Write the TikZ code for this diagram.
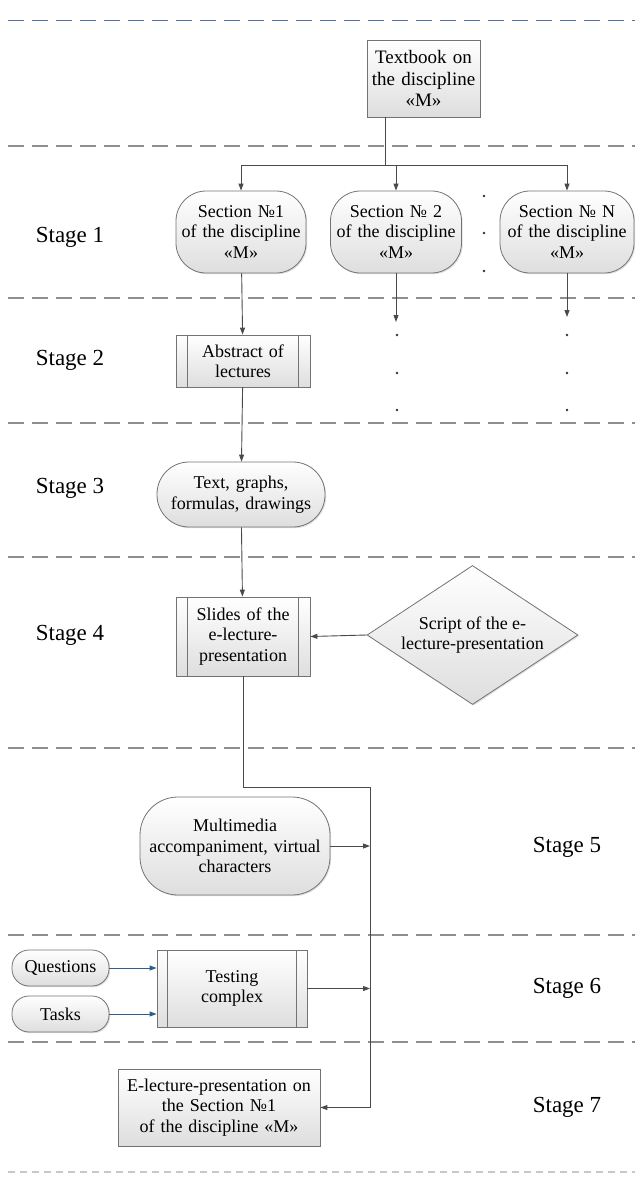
\documentclass[tikz,border=0pt]{standalone}
\usepackage{fontspec}
\setmainfont{Liberation Serif}
\usetikzlibrary{arrows.meta,shapes.geometric,shadows}

\definecolor{linegray}{HTML}{4A4A4A}
\definecolor{sepgray}{HTML}{8E8E8E}
\definecolor{sepblue}{HTML}{5472A8}
\definecolor{arrblue}{HTML}{2F5D8C}

\tikzset{
  every node/.style={font=\fontsize{18}{20.5}\selectfont, align=center, inner sep=0pt},
  blk/.style={draw=black!55, line width=0.8pt, top color=white, bottom color=black!13,
    drop shadow={shadow xshift=1.2pt, shadow yshift=-1.2pt, opacity=0.25}},
  roundblk/.style={blk, rounded corners=#1},
  stagelbl/.style={font=\fontsize{23}{26}\selectfont},
  sepline/.style={sepgray, line width=1.3pt, dash pattern=on 16pt off 8pt},
  arr/.style={linegray, line width=0.9pt, -{Triangle[length=7pt,width=5pt]}},
  conn/.style={linegray, line width=0.9pt},
}

\begin{document}
\begin{tikzpicture}[x=1pt,y=-1pt]
    \useasboundingbox (0,0) rectangle (635,1178);

    % stage separators
    \draw[sepline, sepblue, line width=0.9pt] (8,20) -- (635,20);
    \foreach \yy in {146,298,423,557,748,935,1042}
        \draw[sepline] (8,\yy) -- (635,\yy);
    \draw[sepline, black!22, dash pattern=on 7pt off 5pt] (8,1172) -- (635,1172);

    \coordinate (trunk) at (385,165);
    \coordinate (end2) at (397,322);
    \coordinate (endN) at (568,317);
    \coordinate (jn) at (370,787);

    % blocks
    \node[blk, minimum width=113pt, minimum height=77pt, text width=110pt, font=\fontsize{19}{21.5}\selectfont] (textbook) at (423.5,78.5) {Textbook on\\the discipline\\«M»};
    \node[roundblk=30pt, minimum width=130pt, minimum height=82pt, text width=128pt] (sec1) at (241,232) {Section №1\\of the discipline\\«M»};
    \node[roundblk=30pt, minimum width=131pt, minimum height=82pt, text width=128pt] (sec2) at (396,232) {Section № 2\\of the discipline\\«M»};
    \node[roundblk=30pt, minimum width=134pt, minimum height=82pt, text width=128pt] (secN) at (567,232) {Section № N\\of the discipline\\«M»};
    \node[blk, minimum width=134pt, minimum height=52pt, text width=108pt] (abstract) at (243,361) {Abstract of\\lectures};
    \node[roundblk=32pt, minimum width=168pt, minimum height=65pt, text width=160pt] (texts) at (241,494.5) {Text, graphs,\\formulas, drawings};
    \node[blk, minimum width=134pt, minimum height=79pt, text width=108pt] (slides) at (243,636.5) {Slides of the\\e-lecture-\\presentation};
    \node[blk, diamond, aspect=1.52, minimum width=211pt, minimum height=139pt] (script) at (472.5,635) {Script of the e-\\lecture-presentation};
    \node[roundblk=38pt, minimum width=190pt, minimum height=98pt, text width=180pt] (media) at (235,846) {Multimedia\\accompaniment, virtual\\characters};
    \node[roundblk=17pt, minimum width=97pt, minimum height=36pt] (questions) at (60.5,968) {Questions};
    \node[roundblk=17pt, minimum width=97pt, minimum height=36pt] (tasks) at (60.5,1014) {Tasks};
    \node[blk, minimum width=150pt, minimum height=77pt, text width=124pt] (testing) at (232,988.5) {Testing\\complex};
    \node[blk, minimum width=202pt, minimum height=77pt, text width=198pt] (final) at (219,1107.5) {E-lecture-presentation on\\the Section №1\\of the discipline «M»};

    % subroutine side bars
    \foreach \n/\s in {abstract/12pt, slides/12pt, testing/11pt} {
        \draw[black!55, line width=0.8pt] ([xshift=\s]\n.north west) -- ([xshift=\s]\n.south west);
        \draw[black!55, line width=0.8pt] ([xshift=-\s]\n.north east) -- ([xshift=-\s]\n.south east);
    }

    % stage labels
    \node[stagelbl] (st1) at (70,237) {Stage 1};
    \node[stagelbl] (st2) at (70,360) {Stage 2};
    \node[stagelbl] (st3) at (70,488) {Stage 3};
    \node[stagelbl] (st4) at (70,635) {Stage 4};
    \node[stagelbl] (st5) at (567,847) {Stage 5};
    \node[stagelbl] (st6) at (567,988) {Stage 6};
    \node[stagelbl] (st7) at (567,1107) {Stage 7};

    % connectors
    \draw[conn] (textbook.south -| trunk) -- (trunk);
    \draw[arr] (trunk) -| (sec1.north);
    \draw[arr] (trunk) -| (secN.north);
    \draw[arr] (trunk -| sec2.north) -- (sec2.north);
    \draw[arr] (sec2.south) -- (sec2.south |- end2);
    \draw[arr] (secN.south) -- (secN.south |- endN);
    \draw[arr] (sec1) -- (abstract);
    \draw[arr] (abstract) -- (texts);
    \draw[arr] (texts) -- (slides);
    \draw[arr] (script.west) -- (slides.east);
    \draw[arr] (slides.south) |- (jn) |- (final.east); % main line
    \draw[arr] (media.east) -- (media.east -| jn);
    \draw[arr] (testing.east) -- (testing.east -| jn);
    \draw[arr, arrblue] (questions.east) -- (questions.east -| testing.west);
    \draw[arr, arrblue] (tasks.east) -- (tasks.east -| testing.west);

    % dots
    \foreach \yy in {196,233,271} \fill[black!80] (484,\yy) circle (1.3);
    \foreach \yy in {335,373,410} {
        \fill[black!80] (397,\yy) circle (1.3);
        \fill[black!80] (567,\yy) circle (1.3);
    }
\end{tikzpicture}
\end{document}
